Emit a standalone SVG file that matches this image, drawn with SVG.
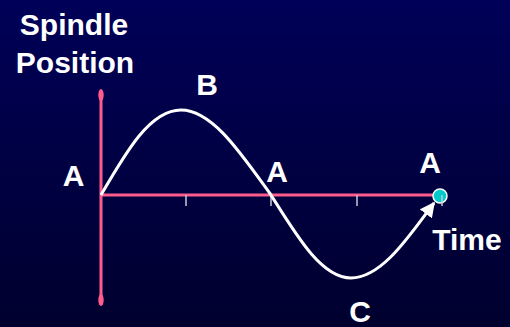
<svg xmlns="http://www.w3.org/2000/svg" width="510" height="327" viewBox="0 0 510 327">
<defs>
<linearGradient id="bg" x1="0" y1="0" x2="0" y2="1">
<stop offset="0" stop-color="#000058"/>
<stop offset="1" stop-color="#00002e"/>
</linearGradient>
<marker id="arr" viewBox="0 0 10 10" refX="9" refY="5" markerWidth="5" markerHeight="5" orient="auto" markerUnits="strokeWidth">
<path d="M0,0 L10,5 L0,10 z" fill="#ffffff"/>
</marker>
<style>
.lbl{font-family:"Liberation Sans",Arial,sans-serif;font-weight:bold;font-size:30px;fill:#ffffff;text-anchor:middle}
.axis{stroke:#ff5c8e;stroke-width:3;fill:none}
.tick{stroke:#c8c8d8;stroke-width:1.5}
</style>
</defs>
<rect width="510" height="327" fill="url(#bg)"/>
<g id="axes">
<line class="axis" x1="101" y1="92" x2="101" y2="303"/>
<ellipse cx="101" cy="95" rx="2.7" ry="6" fill="#ff5c8e"/>
<ellipse cx="101" cy="300" rx="2.7" ry="6" fill="#ff5c8e"/>
<line class="axis" x1="101" y1="195" x2="436" y2="195"/>
<line class="tick" x1="186" y1="195" x2="186" y2="206"/>
<line class="tick" x1="271" y1="195" x2="271" y2="206"/>
<line class="tick" x1="357" y1="195" x2="357" y2="206"/>
</g>
<g id="connectors">
<path d="M101,195 C126,152 150,110 181,110 C212,110 240,152 271,195 C298,238 322,278 351,278 C382,278 410,235 434,203" fill="none" stroke="#ffffff" stroke-width="3" marker-end="url(#arr)"/>
</g>
<g id="end-point">
<circle cx="440" cy="196" r="7" fill="#00cccc" stroke="#ffffff" stroke-width="1.5"/>
<line class="tick" x1="442" y1="195" x2="442" y2="206"/>
</g>
<g id="labels">
<text class="lbl" x="74" y="35">Spindle</text>
<text class="lbl" x="75" y="73">Position</text>
<text class="lbl" x="207" y="95">B</text>
<text class="lbl" x="73.5" y="186">A</text>
<text class="lbl" x="277" y="182">A</text>
<text class="lbl" x="430" y="173">A</text>
<text class="lbl" x="467" y="250">Time</text>
<text class="lbl" x="360" y="322">C</text>
</g>
</svg>
